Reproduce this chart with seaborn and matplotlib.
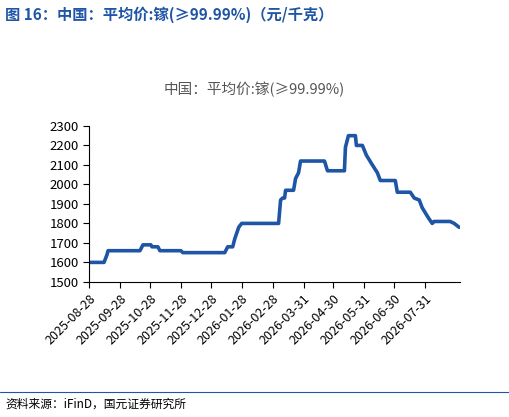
import matplotlib
matplotlib.use("Agg")
import matplotlib.pyplot as plt
import seaborn as sns
import pandas as pd

sns.set_theme(style="white")
plt.rcParams['font.family'] = ['Noto Sans CJK SC', 'DejaVu Sans']

offsets = [0, 15, 18, 19, 51, 54, 62, 63, 69, 71, 92, 94, 136, 139, 144, 146, 150, 153, 190, 192,
           194, 196, 197, 205, 207, 210, 212, 236, 239, 256, 257, 260, 267, 268, 274, 278, 284, 289,
           292, 307, 309, 322, 326, 331, 334, 340, 344, 346, 362, 366, 371]
values = [1600, 1600, 1640, 1660, 1660, 1690, 1690, 1680, 1680, 1660, 1660, 1650, 1650, 1680, 1680,
          1720, 1780, 1800, 1800, 1920, 1930, 1930, 1970, 1970, 2030, 2060, 2120, 2120, 2070, 2070,
          2190, 2250, 2250, 2200, 2200, 2150, 2100, 2060, 2020, 2020, 1960, 1960, 1930, 1920, 1880,
          1830, 1800, 1810, 1810, 1800, 1780]
start = pd.Timestamp("2025-08-28")
dates = [start + pd.Timedelta(days=int(d)) for d in offsets]
tick_labels = ["2025-08-28", "2025-09-28", "2025-10-28", "2025-11-28", "2025-12-28", "2026-01-28",
               "2026-02-28", "2026-03-31", "2026-04-30", "2026-05-31", "2026-06-30", "2026-07-31"]

df = pd.DataFrame({"date": dates, "price": values})

fig = plt.figure(figsize=(5.09, 4.17), dpi=100)
ax = fig.add_axes([0.175, 0.324, 0.729, 0.374])
sns.lineplot(data=df, x="date", y="price", ax=ax, color="#1f55a5", linewidth=2.6)
ax.set_ylim(1500, 2300)
ax.set_yticks(range(1500, 2301, 100))
ax.set_xlim(start, start + pd.Timedelta(days=372))
ax.set_xticks([pd.Timestamp(t) for t in tick_labels])
ax.set_xticklabels(tick_labels, rotation=45, ha="right", rotation_mode="anchor")
ax.set_xlabel(""); ax.set_ylabel("")
for s in ["top", "right"]:
    ax.spines[s].set_visible(False)
for s in ["left", "bottom"]:
    ax.spines[s].set_color("black"); ax.spines[s].set_linewidth(0.8)
ax.tick_params(axis="both", which="both", direction="out", length=4, width=0.8,
               colors="black", labelsize=9.5, left=True, bottom=True)
ax.tick_params(axis="x", labelsize=9)

fig.text(0.5, 0.785, "中国：平均价:镓(≥99.99%)", ha="center", va="center", fontsize=10.5, color="#555555")
fig.text(0.01, 0.965, "图 16：中国：平均价:镓(≥99.99%)（元/千克）", ha="left", va="center",
         fontsize=11, color="#1f55a5", fontweight="bold")
fig.add_artist(plt.Line2D([0.0, 1.0], [0.06, 0.06], color="#1f55a5", linewidth=0.8))
fig.text(0.01, 0.03, "资料来源：iFinD，国元证券研究所", ha="left", va="center", fontsize=8.5, color="black")
fig.savefig("out.png", dpi=100)
